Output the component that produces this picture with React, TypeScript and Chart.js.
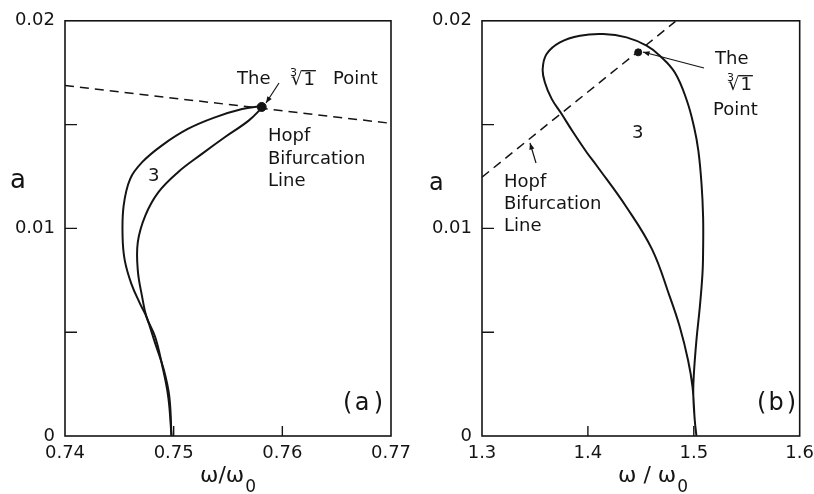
import React, { useEffect, useRef } from 'react';
import { Chart, registerables } from 'chart.js';

Chart.register(...registerables);

const FONT = '"DejaVu Sans", "Liberation Sans", sans-serif';
const INK = '#141414';

// ---------------- Panel (a) ----------------
const aXTickValues = [0.74, 0.75, 0.76, 0.77];
const aXTickLabels = ['0.74', '0.75', '0.76', '0.77'];
const yTickValues = [0, 0.005, 0.01, 0.015, 0.02];
const yTickLabels = ['0', '', '0.01', '', '0.02'];

const aOuterX = [0.7498, 0.7496, 0.7491, 0.7483, 0.7475, 0.7469, 0.7461, 0.7455, 0.7453, 0.7454, 0.746, 0.7471, 0.7489, 0.7513, 0.7538, 0.7563, 0.7581];
const aOuterY = [0, 0.0019, 0.00318, 0.00446, 0.00574, 0.00638, 0.00734, 0.00846, 0.0096, 0.01111, 0.01239, 0.01319, 0.01399, 0.01479, 0.01535, 0.01575, 0.0159];
const aInnerX = [0.7582, 0.7569, 0.7547, 0.7526, 0.7504, 0.7486, 0.7474, 0.7467, 0.7467, 0.7471, 0.7475, 0.7483, 0.7489, 0.7495, 0.7498];
const aInnerY = [0.01585, 0.01519, 0.01439, 0.01359, 0.01271, 0.01175, 0.01063, 0.00934, 0.00798, 0.0067, 0.00574, 0.00477, 0.0035, 0.00189, 0];
const aHopfX = [0.74, 0.77];
const aHopfY = [0.01688, 0.01506];
const aPointX = [0.7581];
const aPointY = [0.01585];

// ---------------- Panel (b) ----------------
const bXTickValues = [1.3, 1.4, 1.5, 1.6];
const bXTickLabels = ['1.3', '1.4', '1.5', '1.6'];

const bLoopX = [1.5025, 1.5009, 1.4995, 1.5001, 1.5025, 1.5057, 1.5082, 1.5088, 1.5088, 1.5073, 1.5043, 1.5003, 1.4935, 1.4821, 1.4679, 1.4554, 1.4365, 1.4144, 1.3925, 1.3736, 1.361, 1.3573, 1.3594, 1.3658, 1.3752, 1.3861, 1.3988, 1.4082, 1.4365, 1.4605, 1.4774, 1.4868, 1.4946, 1.4988, 1.5009, 1.5025];
const bLoopY = [0, 0.00077, 0.00205, 0.00301, 0.00462, 0.00622, 0.00782, 0.00894, 0.01054, 0.01215, 0.01375, 0.01487, 0.01615, 0.01751, 0.01832, 0.0188, 0.0192, 0.01936, 0.01928, 0.01896, 0.0184, 0.01768, 0.01703, 0.01624, 0.01551, 0.01463, 0.01367, 0.01303, 0.01102, 0.009, 0.0067, 0.00525, 0.00365, 0.00237, 0.00077, 0];
const bHopfX = [1.3, 1.4827];
const bHopfY = [0.01247, 0.01997];
const bPointX = [1.4475];
const bPointY = [0.01848];

function toPts(xs: number[], ys: number[]) {
  return xs.map((x, i) => ({ x, y: ys[i] }));
}

function arrow(ctx: CanvasRenderingContext2D, x0: number, y0: number, x1: number, y1: number) {
  ctx.beginPath();
  ctx.moveTo(x0, y0);
  ctx.lineTo(x1, y1);
  ctx.stroke();
  const ang = Math.atan2(y1 - y0, x1 - x0);
  const L = 7;
  const w = 0.38;
  ctx.beginPath();
  ctx.moveTo(x1, y1);
  ctx.lineTo(x1 - L * Math.cos(ang - w), y1 - L * Math.sin(ang - w));
  ctx.lineTo(x1 - L * Math.cos(ang + w), y1 - L * Math.sin(ang + w));
  ctx.closePath();
  ctx.fill();
}

function cubeRoot(ctx: CanvasRenderingContext2D, x: number, baseline: number, size: number) {
  ctx.font = `${size}px ${FONT}`;
  const rm = ctx.measureText('√');
  const top = baseline - rm.actualBoundingBoxAscent;
  ctx.fillText('√', x, baseline);
  const x1 = x + rm.width;
  ctx.fillText('1', x1 + 1, baseline);
  const w1 = ctx.measureText('1').width;
  ctx.lineWidth = 1.3;
  ctx.beginPath();
  ctx.moveTo(x1 - 1, top + 0.7);
  ctx.lineTo(x1 + 2 + w1, top + 0.7);
  ctx.stroke();
  ctx.font = `${Math.round(size * 0.62)}px ${FONT}`;
  ctx.fillText('3', x - 1, baseline - size * 0.5);
}

function xTitle(ctx: CanvasRenderingContext2D, x: number, main: string) {
  ctx.font = `22px ${FONT}`;
  ctx.textAlign = 'left';
  ctx.fillText(main, x, 482);
  const w = ctx.measureText(main).width;
  ctx.font = `17px ${FONT}`;
  ctx.fillText('0', x + w + 1, 492);
}

type PanelSpec = {
  xMin: number;
  xMax: number;
  xTicks: number[];
  xLabels: string[];
  yAxisWidth: number;
  padRight: number;
  datasets: any[];
  annotate: (ctx: CanvasRenderingContext2D) => void;
};

function framePlugin(spec: PanelSpec) {
  return {
    id: 'frame',
    afterDraw(chart: any) {
      const ctx: CanvasRenderingContext2D = chart.ctx;
      const { left, right, top, bottom } = chart.chartArea;
      const xs = chart.scales.x;
      const ys = chart.scales.y;
      ctx.save();
      ctx.strokeStyle = INK;
      ctx.fillStyle = INK;
      ctx.lineWidth = 1.6;
      ctx.strokeRect(left, top, right - left, bottom - top);
      // inward tick marks
      ctx.lineWidth = 1.4;
      ctx.beginPath();
      yTickValues.slice(1, -1).forEach((v) => {
        const p = ys.getPixelForValue(v);
        ctx.moveTo(left, p);
        ctx.lineTo(left + 12, p);
      });
      spec.xTicks.slice(1, -1).forEach((v) => {
        const p = xs.getPixelForValue(v);
        ctx.moveTo(p, bottom);
        ctx.lineTo(p, bottom - 10);
      });
      ctx.stroke();
      ctx.textBaseline = 'alphabetic';
      ctx.textAlign = 'left';
      spec.annotate(ctx);
      ctx.restore();
    },
  };
}

function buildConfig(spec: PanelSpec): any {
  const tickFont = { family: FONT, size: 18 };
  return {
    type: 'scatter',
    data: { datasets: spec.datasets },
    options: {
      animation: false,
      responsive: false,
      devicePixelRatio: 1,
      events: [],
      layout: { padding: { left: 0, top: 20, right: spec.padRight, bottom: 0 } },
      plugins: { legend: { display: false }, tooltip: { enabled: false }, title: { display: false } },
      scales: {
        x: {
          type: 'linear',
          min: spec.xMin,
          max: spec.xMax,
          afterFit: (s: any) => {
            s.height = 58;
          },
          afterBuildTicks: (s: any) => {
            s.ticks = spec.xTicks.map((v) => ({ value: v }));
          },
          grid: { display: false, drawTicks: false },
          border: { display: false },
          ticks: {
            autoSkip: false,
            maxRotation: 0,
            padding: 7,
            color: INK,
            font: tickFont,
            callback: (_v: any, i: number) => spec.xLabels[i],
          },
        },
        y: {
          type: 'linear',
          min: 0,
          max: 0.02,
          afterFit: (s: any) => {
            s.width = spec.yAxisWidth;
          },
          afterBuildTicks: (s: any) => {
            s.ticks = yTickValues.map((v) => ({ value: v }));
          },
          grid: { display: false, drawTicks: false },
          border: { display: false },
          ticks: {
            autoSkip: false,
            padding: 10,
            color: INK,
            font: tickFont,
            callback: (_v: any, i: number) => yTickLabels[i],
          },
        },
      },
    },
    plugins: [framePlugin(spec)],
  };
}

const curveStyle = {
  showLine: true,
  borderColor: INK,
  borderWidth: 2,
  pointRadius: 0,
  tension: 0.4,
  fill: false,
};
const hopfStyle = {
  showLine: true,
  borderColor: INK,
  borderWidth: 1.5,
  borderDash: [9, 6],
  pointRadius: 0,
  tension: 0,
  fill: false,
};

const panelA: PanelSpec = {
  xMin: 0.74,
  xMax: 0.77,
  xTicks: aXTickValues,
  xLabels: aXTickLabels,
  yAxisWidth: 65,
  padRight: 39,
  datasets: [
    { label: 'resonance 3 (outer)', data: toPts(aOuterX, aOuterY), ...curveStyle },
    { label: 'resonance 3 (inner)', data: toPts(aInnerX, aInnerY), ...curveStyle },
    { label: 'Hopf bifurcation line', data: toPts(aHopfX, aHopfY), ...hopfStyle },
    { label: 'cube-root point', data: toPts(aPointX, aPointY), showLine: false, pointRadius: 4.5, pointBackgroundColor: INK, pointBorderColor: INK },
  ],
  annotate: (ctx) => {
    ctx.font = `26px ${FONT}`;
    ctx.fillText('a', 10, 188);
    xTitle(ctx, 200, 'ω/ω');
    ctx.font = `18px ${FONT}`;
    ctx.fillText('The', 237, 84);
    cubeRoot(ctx, 291, 85, 18);
    ctx.font = `18px ${FONT}`;
    ctx.fillText('Point', 333, 84);
    ctx.fillText('Hopf', 268, 141);
    ctx.fillText('Bifurcation', 268, 164);
    ctx.fillText('Line', 268, 186);
    ctx.fillText('3', 148, 181);
    ctx.font = `24px ${FONT}`;
    ctx.fillText('(', 343, 410);
    ctx.textAlign = 'center';
    ctx.fillText('a', 362, 410);
    ctx.textAlign = 'right';
    ctx.fillText(')', 383, 410);
    ctx.textAlign = 'left';
    ctx.lineWidth = 1.2;
    arrow(ctx, 279, 83, 266, 103);
  },
};

const panelB: PanelSpec = {
  xMin: 1.3,
  xMax: 1.6,
  xTicks: bXTickValues,
  xLabels: bXTickLabels,
  yAxisWidth: 75,
  padRight: 21,
  datasets: [
    { label: 'resonance 3', data: toPts(bLoopX, bLoopY), ...curveStyle },
    { label: 'Hopf bifurcation line', data: toPts(bHopfX, bHopfY), ...hopfStyle },
    { label: 'cube-root point', data: toPts(bPointX, bPointY), showLine: false, pointRadius: 3.5, pointBackgroundColor: INK, pointBorderColor: INK },
  ],
  annotate: (ctx) => {
    ctx.font = `24px ${FONT}`;
    ctx.fillText('a', 22, 190);
    xTitle(ctx, 211, 'ω / ω');
    ctx.font = `18px ${FONT}`;
    ctx.fillText('The', 308, 64);
    cubeRoot(ctx, 321, 90, 18);
    ctx.font = `18px ${FONT}`;
    ctx.fillText('Point', 306, 115);
    ctx.fillText('3', 225, 138);
    ctx.fillText('Hopf', 97, 187);
    ctx.fillText('Bifurcation', 97, 209);
    ctx.fillText('Line', 97, 231);
    ctx.font = `24px ${FONT}`;
    ctx.fillText('(', 350, 410);
    ctx.textAlign = 'center';
    ctx.fillText('b', 369, 410);
    ctx.textAlign = 'right';
    ctx.fillText(')', 389, 410);
    ctx.textAlign = 'left';
    ctx.lineWidth = 1.2;
    arrow(ctx, 297, 68, 236, 52);
    arrow(ctx, 129, 163, 123, 143);
  },
};

function Panel({ spec, left, width }: { spec: PanelSpec; left: number; width: number }) {
  const ref = useRef<HTMLCanvasElement>(null);
  useEffect(() => {
    const chart = new Chart(ref.current as HTMLCanvasElement, buildConfig(spec));
    return () => chart.destroy();
  }, [spec]);
  return (
    <canvas
      ref={ref}
      width={width}
      height={494}
      style={{ position: 'absolute', left, top: 0, width, height: 494 }}
    />
  );
}

export default function App() {
  return (
    <div
      style={{
        position: 'fixed',
        left: 0,
        top: 0,
        width: 814,
        height: 494,
        overflow: 'hidden',
        background: '#ffffff',
      }}
    >
      <Panel spec={panelA} left={0} width={430} />
      <Panel spec={panelB} left={407} width={414} />
    </div>
  );
}
